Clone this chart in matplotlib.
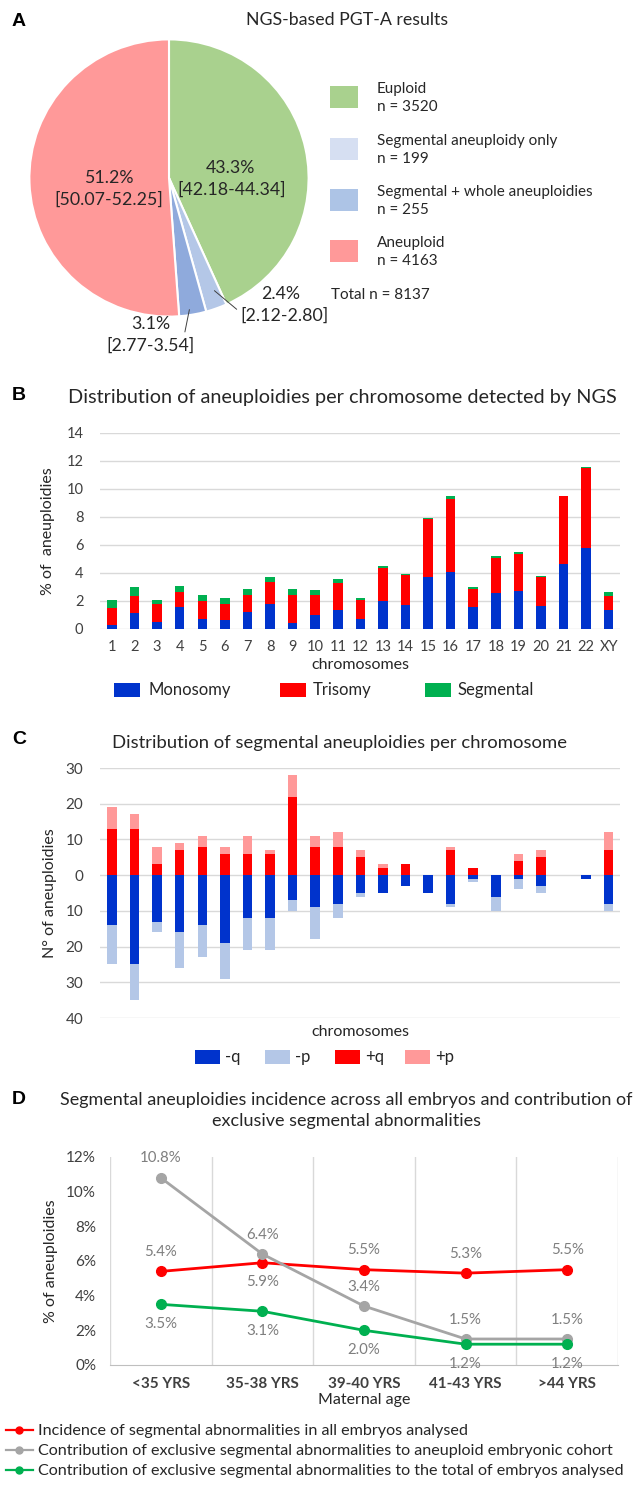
import matplotlib
matplotlib.use("Agg")
import matplotlib.pyplot as plt
import numpy as np
from matplotlib.patches import Rectangle
from matplotlib.lines import Line2D

plt.rcParams['font.family'] = ['Lato', 'DejaVu Sans']

# ---------------- data ----------------
pie_labels = ["Euploid", "Segmental aneuploidy only", "Segmental + whole aneuploidies", "Aneuploid"]
pie_counts = [3520, 199, 255, 4163]
pie_pct_txt = ["43.3%", "2.4%", "3.1%", "51.2%"]
pie_ci_txt = ["[42.18-44.34]", "[2.12-2.80]", "[2.77-3.54]", "[50.07-52.25]"]
total_n = 8137

chromosomes = [str(i) for i in range(1, 23)] + ["XY"]
monosomy = [0.29, 1.12, 0.48, 1.58, 0.69, 0.67, 1.24, 1.81, 0.43, 1.00, 1.38, 0.69,
            2.00, 1.69, 3.68, 4.08, 1.58, 2.55, 2.70, 1.62, 4.65, 5.80, 1.36]
trisomy = [1.24, 1.24, 1.33, 1.07, 1.34, 1.14, 1.22, 1.58, 2.00, 1.41, 1.94, 1.36,
           2.39, 2.18, 4.17, 5.23, 1.31, 2.53, 2.69, 2.10, 4.85, 5.73, 1.00]
segmental = [0.55, 0.62, 0.27, 0.45, 0.40, 0.41, 0.38, 0.31, 0.46, 0.36, 0.28, 0.15,
             0.10, 0.07, 0.05, 0.16, 0.11, 0.17, 0.10, 0.07, 0.02, 0.04, 0.29]

minus_q = [14, 25, 13, 16, 14, 19, 12, 12, 7, 9, 8, 5, 5, 3, 5, 8, 1, 6, 1, 3, 0, 1, 8]
minus_p = [11, 10, 3, 10, 9, 10, 9, 9, 3, 9, 4, 1, 0, 0, 0, 1, 1, 4, 3, 2, 0, 0, 2]
plus_q = [13, 13, 3, 7, 8, 6, 6, 6, 22, 8, 8, 5, 2, 3, 0, 7, 2, 0, 4, 5, 0, 0, 7]
plus_p = [6, 4, 5, 2, 3, 2, 5, 1, 6, 3, 4, 2, 1, 0, 0, 1, 0, 0, 2, 2, 0, 0, 5]

age_groups = ["<35 YRS", "35-38 YRS", "39-40 YRS", "41-43 YRS", ">44 YRS"]
incidence_all = [5.4, 5.9, 5.5, 5.3, 5.5]
contrib_aneuploid = [10.8, 6.4, 3.4, 1.5, 1.5]
contrib_total = [3.5, 3.1, 2.0, 1.2, 1.2]
line_labels = ["Incidence of segmental abnormalities in all embryos analysed",
               "Contribution of exclusive segmental abnormalities to aneuploid embryonic cohort",
               "Contribution of exclusive segmental abnormalities to the total of embryos analysed"]

# ---------------- figure ----------------
W, H = 640, 1485
fig = plt.figure(figsize=(W / 100, H / 100), dpi=100)
fig.patch.set_facecolor("white")


def ax_px(l, t, r, b):
    return fig.add_axes([l / W, 1 - b / H, (r - l) / W, (b - t) / H])


def ftext(x, y, s, **kw):
    return fig.text(x / W, 1 - y / H, s, **kw)


TXT = "#262626"
TICK = "#404040"
GRID = "#D9D9D9"
PL = dict(fontsize=14, fontweight="bold", family="Liberation Sans", va="center")

# ---------------- Panel A ----------------
ftext(12, 22, "A", **PL)
ftext(347, 20, "NGS-based PGT-A results", fontsize=12.8, ha="center", va="center", color=TXT)

axA = ax_px(28, 38, 310, 318)
pie_colors = ["#A9D18E", "#B4C7E7", "#8FAADC", "#FF9999"]
wedges, _ = axA.pie(pie_counts, colors=pie_colors, startangle=90, counterclock=False,
                    wedgeprops=dict(edgecolor="white", linewidth=1.5), radius=1.0)
axA.set_xlim(-1.01, 1.01)
axA.set_ylim(-1.01, 1.01)
axA.set_aspect("auto")

PF = 12.8
axA.text(0.44, 0.07, pie_pct_txt[0], ha="center", va="center", fontsize=PF, color=TXT)
axA.text(0.45, -0.085, pie_ci_txt[0], ha="center", va="center", fontsize=PF, color=TXT)
axA.text(-0.43, 0.00, pie_pct_txt[3], ha="center", va="center", fontsize=PF, color=TXT)
axA.text(-0.43, -0.16, pie_ci_txt[3], ha="center", va="center", fontsize=PF, color=TXT)

axA.annotate("", xy=(0.31, -0.80), xytext=(0.50, -0.96),
             arrowprops=dict(arrowstyle="-", color="#404040", lw=0.7), annotation_clip=False)
axA.text(0.80, -0.84, pie_pct_txt[1], ha="center", va="center", fontsize=PF, color=TXT, clip_on=False)
axA.text(0.83, -0.995, pie_ci_txt[1], ha="center", va="center", fontsize=PF, color=TXT, clip_on=False)
axA.annotate("", xy=(0.15, -0.93), xytext=(0.11, -1.13),
             arrowprops=dict(arrowstyle="-", color="#404040", lw=0.7), annotation_clip=False)
axA.text(-0.13, -1.05, pie_pct_txt[2], ha="center", va="center", fontsize=PF, color=TXT, clip_on=False)
axA.text(-0.13, -1.21, pie_ci_txt[2], ha="center", va="center", fontsize=PF, color=TXT, clip_on=False)

leg_cols = ["#A9D18E", "#D6DFF2", "#ADC4E6", "#FF9999"]
leg_y = [97, 149, 200, 251]
for lab, n, c, y in zip(pie_labels, pie_counts, leg_cols, leg_y):
    fig.patches.append(Rectangle((330 / W, 1 - (y + 11) / H), 28 / W, 22 / H,
                                 transform=fig.transFigure, facecolor=c, edgecolor="none"))
    ftext(377, y - 8, lab, fontsize=11, va="center", color=TXT)
    ftext(377, y + 10, f"n = {n}", fontsize=11, va="center", color=TXT)
ftext(331, 295, f"Total n = {total_n}", fontsize=11, va="center", color=TXT)

# ---------------- Panel B ----------------
ftext(12, 395, "B", **PL)
ftext(342, 397, "Distribution of aneuploidies per chromosome detected by NGS",
      fontsize=14.3, ha="center", va="center", color=TXT)
axB = ax_px(100, 433, 620, 629)
x = np.arange(len(chromosomes))
bw = 0.42
mono = np.array(monosomy)
tri = np.array(trisomy)
seg = np.array(segmental)
axB.bar(x, mono, bw, color="#0033CC", zorder=3)
axB.bar(x, tri, bw, bottom=mono, color="#FF0000", zorder=3)
axB.bar(x, seg, bw, bottom=mono + tri, color="#00B050", zorder=3)
axB.set_xlim(-0.53, 22.5)
axB.set_ylim(0, 14)
axB.set_yticks(range(0, 15, 2))
axB.set_xticks(x)
axB.set_xticklabels(chromosomes)
axB.grid(axis="y", color=GRID, lw=1, zorder=0)
for s in axB.spines.values():
    s.set_visible(False)
axB.tick_params(length=0, labelsize=10.5, colors=TICK, pad=8)
axB.tick_params(axis="y", pad=12)
axB.set_xlabel("chromosomes", fontsize=11.5, color=TXT, labelpad=3)
axB.set_ylabel("% of  aneuploidies", fontsize=11.5, color=TXT, labelpad=8)

for lab, c, xs, xt in [("Monosomy", "#0033CC", 114, 148), ("Trisomy", "#FF0000", 280, 313),
                       ("Segmental", "#00B050", 425, 458)]:
    fig.patches.append(Rectangle((xs / W, 1 - 697 / H), 26 / W, 14 / H,
                                 transform=fig.transFigure, facecolor=c, edgecolor="none"))
    ftext(xt, 690, lab, fontsize=12, va="center", color=TXT)

# ---------------- Panel C ----------------
ftext(12, 740, "C", **PL)
ftext(340, 743, "Distribution of segmental aneuploidies per chromosome",
      fontsize=13.3, ha="center", va="center", color=TXT)
axC = ax_px(100, 768, 620, 1018)
mq = -np.array(minus_q)
mp = -np.array(minus_p)
pq = np.array(plus_q)
pp = np.array(plus_p)
axC.bar(x, mq, bw, color="#0033CC", zorder=3)
axC.bar(x, mp, bw, bottom=mq, color="#B4C7E7", zorder=3)
axC.bar(x, pq, bw, color="#FF0000", zorder=3)
axC.bar(x, pp, bw, bottom=pq, color="#FF9999", zorder=3)
axC.set_xlim(-0.53, 22.5)
axC.set_ylim(-40, 30)
yt = list(range(-40, 31, 10))
axC.set_yticks(yt)
axC.set_yticklabels([str(abs(v)) for v in yt])
axC.set_xticks([])
axC.grid(axis="y", color=GRID, lw=1, zorder=0)
for s in axC.spines.values():
    s.set_visible(False)
axC.tick_params(length=0, labelsize=11, colors=TICK, pad=12)
axC.set_xlabel("chromosomes", fontsize=11.5, color=TXT, labelpad=5)
axC.set_ylabel("N° of aneuploidies", fontsize=11.5, color=TXT, labelpad=6)

for lab, c, xs in [("-q", "#0033CC", 195), ("-p", "#B4C7E7", 265), ("+q", "#FF0000", 335), ("+p", "#FF9999", 405)]:
    fig.patches.append(Rectangle((xs / W, 1 - 1064 / H), 25 / W, 14 / H,
                                 transform=fig.transFigure, facecolor=c, edgecolor="none"))
    ftext(xs + 30, 1057, lab, fontsize=12, va="center", color=TXT)

# ---------------- Panel D ----------------
ftext(12, 1100, "D", **PL)
ftext(346, 1100, "Segmental aneuploidies incidence across all embryos and contribution of",
      fontsize=13.0, ha="center", va="center", color=TXT)
ftext(346, 1121, "exclusive segmental abnormalities",
      fontsize=13.0, ha="center", va="center", color=TXT)

axD = ax_px(110, 1157, 618, 1365)
xa = np.arange(len(age_groups))
series = [(incidence_all, "#FF0000"), (contrib_aneuploid, "#A5A5A5"), (contrib_total, "#00B050")]
for vals, c in series:
    axD.plot(xa, np.array(vals) / 100, color=c, lw=2, marker="o", ms=7, zorder=3)
axD.set_xlim(-0.5, 4.5)
axD.set_ylim(0, 0.12)
yv = np.arange(0, 0.121, 0.02)
axD.set_yticks(yv)
axD.set_yticklabels([f"{int(round(v * 100))}%" for v in yv])
axD.set_xticks(xa)
axD.set_xticklabels(age_groups, fontweight="bold")
for b in np.arange(-0.5, 4.6, 1):
    axD.axvline(b, color=GRID, lw=1, zorder=0)
for s in ["top", "left", "right"]:
    axD.spines[s].set_visible(False)
axD.spines["bottom"].set_color("#BFBFBF")
axD.tick_params(length=0, labelsize=11, colors=TICK)
axD.tick_params(axis="y", pad=10)
axD.tick_params(axis="x", pad=9)
axD.set_xlabel("Maternal age", fontsize=11.5, color=TXT, labelpad=1)
axD.set_ylabel("% of aneuploidies", fontsize=11.5, color=TXT, labelpad=6)

lab_col = "#7F7F7F"
red_off = [1, -1, 1, 1, 1]
for i in range(5):
    axD.annotate(f"{incidence_all[i]:.1f}%", (xa[i], incidence_all[i] / 100),
                 xytext=(0, 14 * red_off[i]), textcoords="offset points",
                 ha="center", va="center", fontsize=10.8, color=lab_col)
    axD.annotate(f"{contrib_aneuploid[i]:.1f}%", (xa[i], contrib_aneuploid[i] / 100),
                 xytext=(0, 14), textcoords="offset points",
                 ha="center", va="center", fontsize=10.8, color=lab_col)
    axD.annotate(f"{contrib_total[i]:.1f}%", (xa[i], contrib_total[i] / 100),
                 xytext=(0, -14), textcoords="offset points",
                 ha="center", va="center", fontsize=10.8, color=lab_col)

handles = [Line2D([], [], color=c, lw=1.6, marker="o", ms=5) for _, c in series]
fig.legend(handles=handles, labels=line_labels, loc="upper left",
           bbox_to_anchor=(6 / W, 1 - 1424 / H), frameon=False, fontsize=11.6,
           handlelength=1.65, handletextpad=0.35, labelspacing=0.36, borderaxespad=0,
           borderpad=0, labelcolor=TXT)

fig.savefig("out.png", dpi=100, facecolor="white")
